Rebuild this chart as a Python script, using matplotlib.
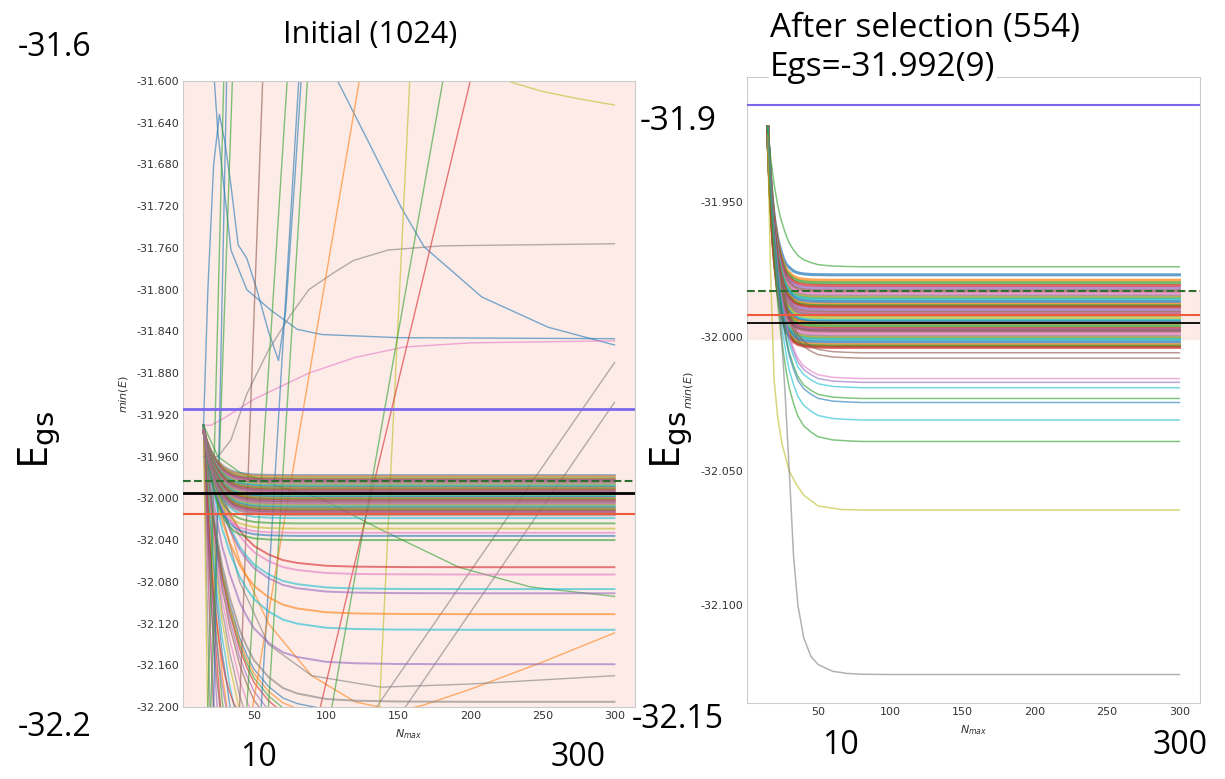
import matplotlib.pyplot as plt
from matplotlib.ticker import MultipleLocator, FormatStrFormatter
import numpy as np

W, H = 1225, 779

# shared N grid and decay profiles (fraction of the initial offset still left)
n_grid = [15, 16, 17, 18, 19, 20, 22, 24, 26, 28, 30, 33, 36, 40, 45, 50,
          60, 70, 80, 100, 120, 150, 200, 250, 300]
fast = [1.00, 0.82, 0.67, 0.55, 0.45, 0.37, 0.25, 0.17, 0.11, 0.07, 0.05, 0.025,
        0.013, 0.006, 0.002, 0.001, 0, 0, 0, 0, 0, 0, 0, 0, 0]
mid = [1.00, 0.89, 0.79, 0.71, 0.63, 0.56, 0.44, 0.35, 0.28, 0.22, 0.17, 0.12,
       0.08, 0.05, 0.03, 0.015, 0.005, 0.002, 0, 0, 0, 0, 0, 0, 0]
slow = [1.00, 0.95, 0.90, 0.85, 0.80, 0.76, 0.68, 0.61, 0.55, 0.49, 0.45, 0.38,
        0.33, 0.26, 0.20, 0.15, 0.09, 0.05, 0.03, 0.01, 0.004, 0.001, 0, 0, 0]

# ---- left panel: initial set (1024) ----
left_start = -31.935
left_band = [-31.978, -31.979, -31.981, -31.982, -31.983, -31.984, -31.985, -31.986,
             -31.987, -31.988, -31.989, -31.990, -31.991, -31.992, -31.993, -31.994,
             -31.995, -31.996, -31.997, -31.998, -31.999, -32.000, -32.001, -32.002,
             -32.003, -32.004, -32.005, -32.006, -32.007, -32.008, -32.009, -32.010,
             -32.011, -32.012, -32.013, -32.014, -32.015, -32.016]
left_flat = [-32.019, -32.024, -32.029, -32.033, -32.036, -32.040]
left_flat_colors = ['tab:cyan', 'tab:green', 'tab:olive', 'tab:pink', 'tab:blue', 'tab:green']
left_deep = [-32.066, -32.073, -32.087, -32.091, -32.111, -32.126, -32.159, -32.195]
left_deep_colors = ['tab:red', 'tab:pink', 'tab:cyan', 'tab:purple', 'tab:orange',
                    'tab:cyan', 'tab:purple', 'tab:gray']
left_fan_slow = [-32.205, -32.21, -32.215, -32.22, -32.23, -32.24, -32.26, -32.28,
                 -32.30, -32.33, -32.36, -32.40, -32.45, -32.50, -32.60, -32.80]
left_fan_mid = [-32.22, -32.25, -32.30, -32.40, -32.60, -32.90]

# wild individual curves: (N values, E values, colour)
left_wild = [
    ([15, 18, 22, 26, 30, 34, 39, 45, 52, 60, 67, 72, 78, 85],
     [-31.93, -31.80, -31.68, -31.632, -31.66, -31.70, -31.757, -31.77, -31.80,
      -31.84, -31.868, -31.82, -31.70, -31.55], 'tab:blue'),
    ([20, 25, 34, 45, 62, 80, 97, 150, 300],
     [-31.55, -31.65, -31.762, -31.80, -31.820, -31.838, -31.843, -31.846, -31.847], 'tab:blue'),
    ([100, 108, 130, 152, 168, 208, 254, 300],
     [-31.57, -31.60, -31.66, -31.721, -31.759, -31.807, -31.836, -31.853], 'tab:blue'),
    ([15, 20, 27, 50, 88, 120, 154, 200, 300],
     [-31.93, -31.93, -31.925, -31.905, -31.880, -31.865, -31.855, -31.851, -31.849], 'tab:pink'),
    ([15, 25, 34, 45, 60, 75, 88, 105, 119, 143, 180, 300],
     [-31.96, -31.96, -31.944, -31.90, -31.858, -31.825, -31.800, -31.784, -31.772,
      -31.762, -31.758, -31.756], 'tab:gray'),
    ([210, 228, 250, 275, 300], [-31.58, -31.601, -31.610, -31.617, -31.623], 'tab:olive'),
    ([15, 25, 40, 70, 96, 138, 192, 242, 300],
     [-31.93, -31.96, -31.975, -31.99, -32.00, -32.03, -32.066, -32.085, -32.094], 'tab:green'),
    ([135, 300], [-32.2, -31.87], 'tab:gray'),
    ([155, 300], [-32.2, -31.908], 'tab:gray'),
    ([15, 25, 40, 60, 90, 120, 150, 168, 200, 250, 300],
     [-31.93, -31.99, -32.06, -32.12, -32.17, -32.195, -32.204, -32.198, -32.183,
      -32.157, -32.129], 'tab:orange'),
    ([15, 25, 40, 60, 90, 138, 200, 300],
     [-31.93, -32.0, -32.08, -32.14, -32.17, -32.181, -32.178, -32.170], 'tab:gray'),
]
# straight lines crossing the whole panel: N at E=-32.2 and N at E=-31.6
up_n_low = [18, 20, 22, 40, 45, 55, 60, 49, 137, 104, 96]
up_n_high = [29, 35, 31, 56, 73, 81, 87, 123, 158, 181, 200]
up_colors = ['tab:green', 'tab:green', 'tab:blue', 'tab:brown', 'tab:green', 'tab:blue',
             'tab:green', 'tab:orange', 'tab:olive', 'tab:green', 'tab:red']

left_refs = {'purple': -31.9145, 'green': -31.9835, 'black': -31.995, 'red': -32.015}

# ---- right panel: after selection (554) ----
right_start = -31.922
right_band = [-31.977, -31.979, -31.980, -31.981, -31.982, -31.983, -31.984, -31.985,
              -31.9855, -31.986, -31.987, -31.988, -31.9885, -31.989, -31.990, -31.991,
              -31.9915, -31.992, -31.993, -31.994, -31.9945, -31.995, -31.996, -31.997,
              -31.9975, -31.998, -31.999, -32.000, -32.0005, -32.001, -32.002, -32.003,
              -32.0035, -32.004]
right_low = [-31.974, -32.006, -32.008, -32.0156, -32.017, -32.019, -32.023, -32.0245,
             -32.031, -32.039]
right_low_colors = ['tab:green', 'tab:brown', 'tab:brown', 'tab:pink', 'tab:purple',
                    'tab:cyan', 'tab:green', 'tab:blue', 'tab:cyan', 'tab:green']
right_yellow_n = [15, 17, 19.5, 22, 25, 30, 35, 40, 50, 66, 80, 300]
right_yellow_e = [-31.925, -31.975, -32.016, -32.030, -32.040, -32.050, -32.055,
                  -32.059, -32.063, -32.0643, -32.0645, -32.0645]
right_gray_n = [15, 18, 21, 24, 27, 30, 33, 36, 40, 45, 50, 60, 70, 80, 100, 300]
right_gray_e = [-31.925, -31.95, -31.975, -31.995, -32.02, -32.05, -32.082, -32.100,
                -32.112, -32.119, -32.122, -32.1245, -32.1253, -32.1256, -32.1257, -32.1257]
right_refs = {'purple': -31.914, 'green': -31.983, 'red': -31.992, 'black': -31.995}
egs_value, egs_err = -31.992, 0.009

PINK = '#fdebe8'
REF_COLORS = {'purple': 'mediumslateblue', 'green': '#2f6f2f', 'black': 'black', 'red': '#ef5a3c'}

n = np.array(n_grid)


def decay(start, asym, profile):
    return asym + (start - asym) * np.array(profile)


def style_axes(ax, ymajor):
    ax.yaxis.set_major_locator(MultipleLocator(ymajor))
    ax.yaxis.set_major_formatter(FormatStrFormatter('%.3f'))
    ax.xaxis.set_major_locator(MultipleLocator(50))
    ax.tick_params(length=0, labelsize=8, labelcolor='#333333', pad=3)
    for s in ax.spines.values():
        s.set_color('#cccccc')
    ax.set_xlabel('$N_{max}$', fontsize=8, color='#333333')
    ax.set_ylabel('$min(E)$', fontsize=8, color='#333333')


fig = plt.figure(figsize=(W / 100, H / 100), dpi=100)

# left panel
ax1 = fig.add_axes([183 / W, 1 - 707 / H, 452 / W, 626 / H])
ax1.set_facecolor(PINK)
for i, a in enumerate(left_fan_slow):
    ax1.plot(n, decay(-31.93, a, slow), color=plt.cm.tab10(i % 10), lw=1, alpha=0.6)
for i, a in enumerate(left_fan_mid):
    ax1.plot(n, decay(-31.93, a, mid), color=plt.cm.tab10((i + 3) % 10), lw=1, alpha=0.6)
for xs, ys, c in left_wild:
    ax1.plot(xs, ys, color=c, lw=1, alpha=0.6)
for lo, hi, c in zip(up_n_low, up_n_high, up_colors):
    ax1.plot([lo, hi], [-32.2, -31.6], color=c, lw=1, alpha=0.6)
for a, c in zip(left_deep, left_deep_colors):
    ax1.plot(n, decay(-31.93, a, slow), color=c, lw=1.4, alpha=0.6)
for a, c in zip(left_flat, left_flat_colors):
    ax1.plot(n, decay(-31.93, a, mid), color=c, lw=1.4, alpha=0.6)
for i, a in enumerate(left_band):
    ax1.plot(n, decay(left_start, a, mid), color=plt.cm.tab10(i % 10), lw=1.8, alpha=0.55)
ax1.axhline(left_refs['purple'], color=REF_COLORS['purple'], lw=2, zorder=4)
ax1.axhline(left_refs['green'], color=REF_COLORS['green'], lw=1.5, ls='--', zorder=4)
ax1.axhline(left_refs['black'], color=REF_COLORS['black'], lw=2, zorder=4)
ax1.axhline(left_refs['red'], color=REF_COLORS['red'], lw=1.5, zorder=4)
ax1.set_xlim(0.75, 314.25)
ax1.set_ylim(-32.2, -31.6)
style_axes(ax1, 0.04)

# right panel
ax2 = fig.add_axes([747 / W, 1 - 703 / H, 453 / W, 626 / H])
ax2.set_facecolor('white')
ax2.axhspan(egs_value - egs_err, egs_value + egs_err, color=PINK, zorder=0)
for i, a in enumerate(right_band):
    ax2.plot(n, decay(right_start, a, fast), color=plt.cm.tab10(i % 10), lw=2.2, alpha=0.7)
for a, c in zip(right_low, right_low_colors):
    ax2.plot(n, decay(right_start, a, mid), color=c, lw=1.1, alpha=0.6)
ax2.plot(right_yellow_n, right_yellow_e, color='tab:olive', lw=1.1, alpha=0.6)
ax2.plot(right_gray_n, right_gray_e, color='tab:gray', lw=1.1, alpha=0.6)
ax2.axhline(right_refs['purple'], color=REF_COLORS['purple'], lw=1.5, zorder=4)
ax2.axhline(right_refs['green'], color=REF_COLORS['green'], lw=1.5, ls='--', zorder=4)
ax2.axhline(right_refs['red'], color=REF_COLORS['red'], lw=1.5, zorder=4)
ax2.axhline(right_refs['black'], color=REF_COLORS['black'], lw=1.3, zorder=4)
ax2.set_xlim(0.75, 314.25)
ax2.set_ylim(-32.1363, -31.9034)
style_axes(ax2, 0.05)

# big overlay annotations
big = dict(family=['Open Sans', 'DejaVu Sans'], color='black')


def put(x, y, s, size, ha='center', va='center', **kw):
    fig.text(x / W, 1 - y / H, s, fontsize=size, ha=ha, va=va, **big, **kw)


put(370, 35, 'Initial (1024)', 22)
put(55, 47, '-31.6', 23)
put(55, 728, '-32.2', 23)
put(258, 757, '10', 23)
put(578, 757, '300', 23)
put(40, 440, r'E$_{\mathrm{gs}}$', 30, rotation=90)

put(770, 28, 'After selection (554)', 24, ha='left')
put(770, 68, 'Egs=-31.992(9)', 24, ha='left',
    bbox=dict(facecolor='white', edgecolor='none', pad=1))
put(678, 121, '-31.9', 24)
put(678, 720, '-32.15', 23)
put(840, 745, '10', 23)
put(1180, 745, '300', 23)
put(672, 440, r'E$_{\mathrm{gs}}$', 30, rotation=90)

fig.savefig('out.png', dpi=100)
